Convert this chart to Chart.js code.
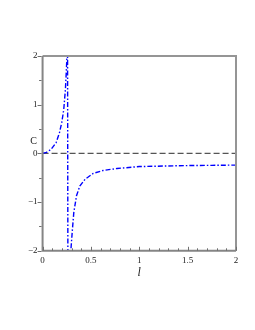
<!DOCTYPE html>
<html>
<head>
<meta charset="utf-8">
<script src="https://cdn.jsdelivr.net/npm/chart.js@4/dist/chart.umd.min.js"></script>
<style>
  html, body { margin: 0; padding: 0; background: #fff; }
  #wrap { width: 255px; height: 330px; }
</style>
</head>
<body>
<div id="wrap"><canvas id="plot"></canvas></div>
<script>
// values
var lValues = [0, 0.04, 0.086, 0.14, 0.174, 0.198, 0.219, 0.236, 0.246, 0.253, 0.258,
               0.262, 0.292, 0.309, 0.323, 0.351, 0.385, 0.44, 0.524, 0.628, 0.77, 1.0, 1.25, 1.5, 1.75, 2.0];
var cValues = [0, 0.02, 0.08, 0.22, 0.42, 0.63, 0.9, 1.31, 1.71, 2.05, 2.6,
               -2.6, -2.0, -1.55, -1.21, -0.87, -0.67, -0.53, -0.41, -0.35, -0.31, -0.27, -0.26, -0.25, -0.245, -0.24];
var zeroL = [0, 2];
var zeroC = [0, 0];
var xMajor = [0, 0.5, 1, 1.5, 2];
var yMajor = [-2, -1, 0, 1, 2];

function toPoints(xs, ys){
  var pts = [];
  for(var i = 0; i < xs.length; i++){
    pts.push({x: xs[i], y: ys[i]});
  }
  return pts;
}

function fmt(v){
  var s = String(Math.round(v * 10) / 10);
  return s.replace('-', '\u2212');
}

var serif = "'Liberation Serif', 'Times New Roman', serif";

// box frame, ticks and the C label
var framePlugin = {
  id: 'frame',
  afterDraw: function(chart){
    var ctx = chart.ctx;
    var a = chart.chartArea;
    var xs = chart.scales.x;
    var ys = chart.scales.y;
    ctx.save();
    ctx.strokeStyle = '#959595';
    ctx.lineWidth = 2;
    ctx.beginPath();
    ctx.moveTo(a.left, a.top);
    ctx.lineTo(a.right, a.top);
    ctx.lineTo(a.right, a.bottom);
    ctx.stroke();
    ctx.strokeStyle = '#858585';
    ctx.beginPath();
    ctx.moveTo(a.left, a.top);
    ctx.lineTo(a.left, a.bottom);
    ctx.lineTo(a.right, a.bottom);
    ctx.stroke();

    ctx.lineWidth = 1;
    ctx.strokeStyle = '#707070';
    // x ticks, inward, minor every 0.1
    for(var i = 0; i <= 20; i++){
      var px = Math.round(xs.getPixelForValue(i / 10)) + 0.5;
      var len = (i % 5 == 0) ? 4 : 2.5;
      ctx.beginPath();
      ctx.moveTo(px, a.bottom);
      ctx.lineTo(px, a.bottom - len);
      ctx.stroke();
    }
    // y ticks, outward, minor every 0.5
    for(var j = -4; j <= 4; j++){
      var py = Math.round(ys.getPixelForValue(j / 2)) + 0.5;
      var len2 = (j % 2 == 0) ? 4 : 2.5;
      ctx.beginPath();
      ctx.moveTo(a.left - 1, py);
      ctx.lineTo(a.left - 1 - len2, py);
      ctx.stroke();
    }

    ctx.fillStyle = '#222';
    ctx.font = '10px ' + serif;
    ctx.textAlign = 'center';
    ctx.textBaseline = 'middle';
    ctx.fillText('C', a.left - 9, ys.getPixelForValue(0.24));
    ctx.restore();
  }
};

var plotCanvas = document.getElementById('plot');
var plot = new Chart(plotCanvas, {
  type: 'scatter',
  data: {
    datasets: [{
      label: 'C',
      data: toPoints(lValues, cValues),
      showLine: true,
      borderColor: '#0000ff',
      borderWidth: 1.4,
      borderDash: [5, 2, 1.5, 2],
      pointRadius: 0,
      tension: 0
    }, {
      label: 'zero',
      data: toPoints(zeroL, zeroC),
      showLine: true,
      borderColor: '#555555',
      borderWidth: 1.3,
      borderDash: [6, 3],
      pointRadius: 0
    }]
  },
  options: {
    responsive: true,
    maintainAspectRatio: false,
    animation: false,
    layout: { padding: { left: 23, right: 19, top: 56, bottom: 50 } },
    plugins: {
      legend: { display: false },
      tooltip: { enabled: false }
    },
    scales: {
      x: {
        type: 'linear',
        min: 0,
        max: 2,
        afterBuildTicks: function(scale){
          scale.ticks = xMajor.map(function(v){ return {value: v}; });
        },
        ticks: {
          color: '#222',
          font: { family: serif, size: 9 },
          padding: 4,
          maxRotation: 0,
          callback: function(v){ return fmt(v); }
        },
        grid: { display: false, drawTicks: false },
        border: { display: false },
        title: {
          display: true,
          text: 'l',
          color: '#222',
          font: { family: serif, size: 12, style: 'italic' },
          padding: { top: -4, bottom: 0 }
        }
      },
      y: {
        type: 'linear',
        min: -2,
        max: 2,
        afterBuildTicks: function(scale){
          scale.ticks = yMajor.map(function(v){ return {value: v}; });
        },
        ticks: {
          color: '#222',
          font: { family: serif, size: 9 },
          padding: 5,
          callback: function(v){ return fmt(v); }
        },
        grid: { display: false, drawTicks: false },
        border: { display: false }
      }
    }
  },
  plugins: [framePlugin]
});
</script>
</body>
</html>
